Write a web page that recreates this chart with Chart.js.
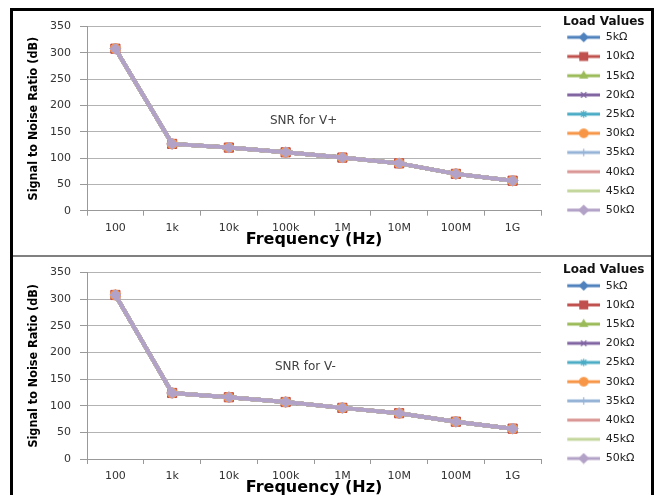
<!DOCTYPE html>
<html>
<head>
<meta charset="utf-8">
<script src="https://cdn.jsdelivr.net/npm/chart.js@4.4.1/dist/chart.umd.min.js"></script>
<style>
  body { margin: 0; background: #fff; }
  #frame { position: absolute; left: 10px; top: 8px; width: 638px; height: 500px;
           border: 3px solid #000; border-bottom: none; overflow: hidden; background: #fff; }
  #panelTop { position: absolute; left: 0; top: 0; width: 638px; height: 244px; }
  #sep { position: absolute; left: 0; top: 244px; width: 638px; height: 2px; background: #808080; }
  #panelBottom { position: absolute; left: 0; top: 246px; width: 638px; height: 246px; }
</style>
</head>
<body>
<div id="frame">
  <div id="panelTop"><canvas id="snrPlus"></canvas></div>
  <div id="sep"></div>
  <div id="panelBottom"><canvas id="snrMinus"></canvas></div>
</div>
<script>
// frequency points (x axis)
var categories = ['100', '1k', '10k', '100k', '1M', '10M', '100M', '1G'];
// SNR in dB (all loads overlap)
var snrVplus = [308, 127, 120, 111, 101, 90, 70, 57];
var snrVminus = [308, 124, 116, 107, 96, 86, 70, 57];
// load values (series)
var loads = ['5kΩ', '10kΩ', '15kΩ', '20kΩ', '25kΩ', '30kΩ', '35kΩ', '40kΩ', '45kΩ', '50kΩ'];
var loadColors = ['#4F81BD', '#C0504D', '#9BBB59', '#8064A2', '#4BACC6', '#F79646', '#95B3D7', '#D99694', '#C3D69B', '#B3A2C7'];
var loadMarkers = ['rectRot', 'rect', 'triangle', 'crossRot', 'star', 'circle', 'cross', null, null, 'rectRot'];
var markerSize = [5, 6.5, 5, 4.5, 4.5, 5, 4.5, 0, 0, 5.5];
var yTicks = [0, 50, 100, 150, 200, 250, 300, 350];

var tickFont = { family: 'DejaVu Sans', size: 11 };

// little line+marker pictures for the legend, like excel
function swatch(color, marker, size) {
  var c = document.createElement('canvas');
  c.width = 51; c.height = 12;
  var g = c.getContext('2d');
  g.strokeStyle = color; g.fillStyle = color; g.lineWidth = 3;
  g.beginPath(); g.moveTo(18, 6); g.lineTo(51, 6); g.stroke();
  if (marker) {
    g.lineWidth = 1.2;
    Chart.helpers.drawPoint(g, { pointStyle: marker, radius: size * 0.85, rotation: 0, borderWidth: 1.2 }, 34.5, 6);
  }
  return c;
}
var swatches = loads.map(function (l, i) { return swatch(loadColors[i], loadMarkers[i], markerSize[i]); });

var notePlugin = {
  id: 'note',
  afterDraw: function (chart, args, opts) {
    var a = chart.chartArea, ctx = chart.ctx;
    ctx.save();
    ctx.font = '12px "DejaVu Sans"';
    ctx.fillStyle = '#404040';
    ctx.textBaseline = 'middle';
    ctx.fillText(opts.text, a.left + opts.dx, a.top + opts.dy);
    ctx.restore();
  }
};

function buildChart(id, values, note, noteDx, padTop, padBottom, titlePad) {
  var datasets = loads.map(function (name, i) {
    return {
      label: name,
      data: values,
      borderColor: loadColors[i],
      backgroundColor: loadColors[i],
      borderWidth: 4,
      pointStyle: loadMarkers[i] || 'circle',
      pointRadius: markerSize[i],
      pointBorderWidth: 1,
      tension: 0,
      order: loads.length - i
    };
  });

  var chart = new Chart(document.getElementById(id), {
    type: 'line',
    data: { labels: categories, datasets: datasets },
    plugins: [notePlugin],
    options: {
      responsive: true,
      maintainAspectRatio: false,
      animation: false,
      events: [],
      layout: { padding: { top: 0, bottom: padBottom, left: 0, right: 6 } },
      scales: {
        x: {
          offset: true,
          grid: { offset: true, drawOnChartArea: false, drawTicks: true, tickLength: 5, color: '#999', tickColor: '#999' },
          border: { display: true, color: '#999', width: 1 },
          ticks: { color: '#333', font: tickFont, padding: 5.7, maxRotation: 0, autoSkip: false },
          title: { display: true, text: 'Frequency (Hz)', color: '#000',
                   font: { family: 'DejaVu Sans', size: 16, weight: 'bold' }, padding: { top: 0, bottom: 4.5 } },
          afterFit: function (s) { s.height = 43.3; }
        },
        y: {
          min: 0, max: 350,
          afterBuildTicks: function (s) { s.ticks = yTicks.map(function (v) { return { value: v }; }); },
          grid: { color: '#b3b3b3', tickColor: '#999', tickLength: 7 },
          border: { display: true, color: '#999', width: 1 },
          ticks: { color: '#333', font: tickFont, padding: 9 },
          title: { display: true, text: 'Signal to Noise Ratio (dB)', color: '#000',
                   font: { family: "'Liberation Sans Narrow', 'DejaVu Sans Condensed', sans-serif", size: 12.5, weight: 'bold' },
                   padding: { top: 13, bottom: 0 } },
          afterFit: function (s) { s.width = 74; }
        }
      },
      plugins: {
        tooltip: { enabled: false },
        note: { text: note, dx: noteDx, dy: 94.5 },
        // empty title only used as top spacer over the plot (legend keeps full height)
        title: { display: true, text: ' ', fullSize: false, font: { size: 1, lineHeight: 1 },
                 padding: { top: padTop - 1, bottom: 0 } },
        legend: {
          position: 'right',
          align: 'start',
          title: { display: true, text: 'Load Values', position: 'end', color: '#111',
                   font: { family: 'DejaVu Sans', size: 12, weight: 'bold' }, padding: titlePad },
          labels: {
            usePointStyle: true,
            pointStyleWidth: 51,
            boxHeight: 11,
            padding: 8.2,
            color: '#222',
            font: { family: 'DejaVu Sans', size: 11 },
            generateLabels: function (c) {
              return c.data.datasets.map(function (ds, i) {
                return { text: ds.label, datasetIndex: i, pointStyle: swatches[i], fontColor: '#222',
                         hidden: false, lineWidth: 0, strokeStyle: 'transparent', fillStyle: 'transparent' };
              });
            }
          }
        }
      }
    }
  });

  // keep the plot right edge where the reference has it
  var lw = chart.legend.width;
  chart.options.layout.padding.right = 110 - lw;
  chart.update('none');
  return chart;
}

buildChart('snrPlus', snrVplus, 'SNR for V+', 183, 9.7, 1, { top: 5.3, bottom: -7.1 });
buildChart('snrMinus', snrVminus, 'SNR for V-', 188, 12, 0.7, { top: 7, bottom: -6.4 });
</script>
</body>
</html>
